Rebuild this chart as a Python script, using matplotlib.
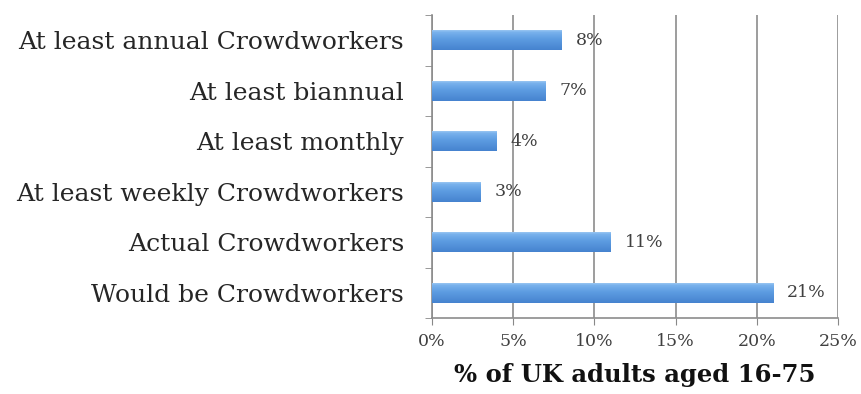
import matplotlib.pyplot as plt
import numpy as np
from matplotlib.colors import LinearSegmentedColormap

categories = ["Would be Crowdworkers", "Actual Crowdworkers",
              "At least weekly Crowdworkers", "At least monthly",
              "At least biannual", "At least annual Crowdworkers"]
values = [21, 11, 3, 4, 7, 8]
x_ticks = [0, 5, 10, 15, 20, 25]

plt.rcParams["font.family"] = ["DejaVu Serif"]

fig = plt.figure(figsize=(8.62, 3.94), dpi=100)
ax = fig.add_axes([432 / 862, 1 - 318 / 394, 406 / 862, 303 / 394])

y = np.arange(len(categories))
bars = ax.barh(y, values, height=0.4, color="#5b9be0", zorder=3)

# vertical gradient inside each bar, light edge on top, darker below
grad = LinearSegmentedColormap.from_list(
    "bar", [(0, "#4683cf"), (0.55, "#5e9de2"), (0.85, "#78b1ec"), (1, "#a6cdf4")])
for b in bars:
    x0, y0 = b.get_x(), b.get_y()
    w, h = b.get_width(), b.get_height()
    img = ax.imshow(np.linspace(0, 1, 64).reshape(-1, 1), cmap=grad,
                    aspect="auto", extent=[x0, x0 + w, y0, y0 + h],
                    origin="lower", zorder=4)
    img.set_clip_path(b)

for yi, v in zip(y, values):
    ax.text(v + 0.85, yi, f"{v}%", va="center", ha="left",
            fontsize=12.5, color="#404040", zorder=5)

ax.set_xlim(0, 25)
ax.set_ylim(-0.5, len(categories) - 0.5)
ax.set_xticks(x_ticks)
ax.set_xticklabels([f"{t}%" for t in x_ticks], fontsize=12.5, color="#404040")
ax.set_yticks(y)
ax.set_yticklabels(categories, fontsize=18, color="#262626")
ax.set_yticks(np.arange(-0.5, len(categories)), minor=True)
ax.tick_params(axis="y", which="major", length=0, pad=20)
ax.tick_params(axis="y", which="minor", length=5, color="#888888")
ax.tick_params(axis="x", length=5, color="#888888", pad=6)

ax.grid(axis="x", color="#8c8c8c", linewidth=1.2, zorder=0)
for side in ["top", "right"]:
    ax.spines[side].set_visible(False)
for side in ["left", "bottom"]:
    ax.spines[side].set_color("#8c8c8c")
    ax.spines[side].set_linewidth(1.2)

ax.set_xlabel("% of UK adults aged 16-75", fontsize=17.5, fontweight="bold",
              color="#111111", labelpad=9)

fig.savefig("out.png", dpi=100)
